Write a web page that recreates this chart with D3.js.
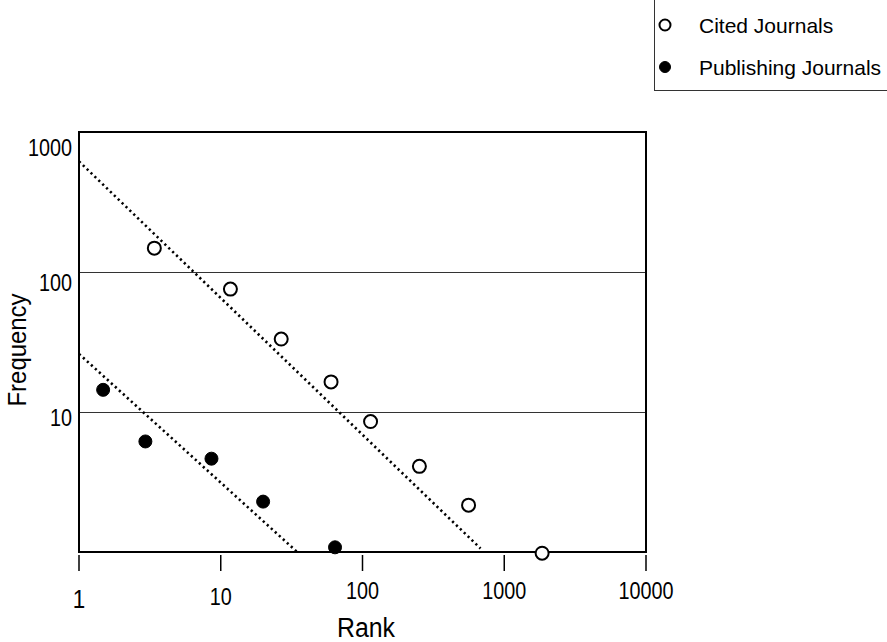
<!DOCTYPE html>
<html>
<head>
<meta charset="utf-8">
<script src="https://cdn.jsdelivr.net/npm/d3@7"></script>
<style>
  body { margin: 0; background: #fff; }
  svg { display: block; }
  text { font-family: "Liberation Sans", Arial, sans-serif; fill: #000; }
  .grid { stroke: #333; stroke-width: 1; shape-rendering: crispEdges; }
  .frame { fill: none; stroke: #000; stroke-width: 2; shape-rendering: crispEdges; }
  .trend { fill: none; stroke: #000; stroke-width: 2.6; stroke-dasharray: 2.2 3.2; }
  .cited { fill: #fff; stroke: #000; stroke-width: 2; }
  .publishing { fill: #000; stroke: #000; stroke-width: 1; }
</style>
</head>
<body>
<svg></svg>
<script>
// ranks and frequencies
const citedRank = [3.4, 11.7, 26.7, 60, 114, 252, 560, 1850]
const citedFreq = [148, 75.5, 33.2, 16.4, 8.55, 4.09, 2.16, 0.98]

const pubRank = [1.48, 2.94, 8.6, 19.9, 64]
const pubFreq = [14.4, 6.16, 4.64, 2.29, 1.08]

// fitted lines, endpoints [rank, freq]
const citedFit = [[1, 617], [680, 1.06]]
const pubFit = [[1, 26], [34.6, 1.0]]

const xTicks = [1, 10, 100, 1000, 10000]
const yTicks = [1000, 100, 10]
const gridValues = [100, 10]

const legendNames = ["Cited Journals", "Publishing Journals"]

const svg = d3.select("svg")
    .attr("width", 887)
    .attr("height", 642)

const x = d3.scaleLog()
    .domain([1, 10000])
    .range([79, 646])

const y = d3.scaleLog()
    .domain([1, 1000])
    .range([552, 132])

// the original uses a narrow face, so squeeze the glyphs a bit
function narrow(sel, k) {
    sel.each(function () {
        const w = this.getComputedTextLength()
        d3.select(this)
            .attr("textLength", w * k)
            .attr("lengthAdjust", "spacingAndGlyphs")
    })
}

// gridlines
svg.selectAll("line.grid")
    .data(gridValues)
    .enter()
    .append("line")
    .attr("class", "grid")
    .attr("x1", x(1))
    .attr("x2", x(10000))
    .attr("y1", d => y(d))
    .attr("y2", d => y(d))

// x ticks, hanging below the frame
svg.selectAll("line.xtick")
    .data(xTicks)
    .enter()
    .append("line")
    .attr("stroke", "#000")
    .attr("stroke-width", 1.5)
    .attr("x1", d => x(d))
    .attr("x2", d => x(d))
    .attr("y1", 555)
    .attr("y2", 571)

// tick labels sit a little unevenly in the original
const xLabelY = {1: 608, 10: 605, 100: 599, 1000: 599, 10000: 599}
svg.selectAll("text.xlab")
    .data(xTicks)
    .enter()
    .append("text")
    .attr("class", "xlab")
    .attr("x", d => x(d))
    .attr("y", d => xLabelY[d])
    .attr("text-anchor", "middle")
    .attr("font-size", d => d == 1 ? 26 : 23)
    .text(d => d)
    .call(narrow, 0.86)

const yLabelShift = {1000: 24, 100: 19, 10: 14}
svg.selectAll("text.ylab")
    .data(yTicks)
    .enter()
    .append("text")
    .attr("class", "ylab")
    .attr("x", 72)
    .attr("y", d => y(d) + yLabelShift[d])
    .attr("text-anchor", "end")
    .attr("font-size", 23)
    .text(d => d)
    .call(narrow, 0.86)

svg.append("text")
    .attr("x", 366)
    .attr("y", 637)
    .attr("text-anchor", "middle")
    .attr("font-size", 27)
    .text("Rank")
    .call(narrow, 0.92)

svg.append("text")
    .attr("transform", "translate(26, 350) rotate(-90)")
    .attr("text-anchor", "middle")
    .attr("font-size", 26)
    .text("Frequency")
    .call(narrow, 0.92)

// trend lines
const fitLine = d3.line()
    .x(d => x(d[0]))
    .y(d => y(d[1]))

svg.append("path")
    .datum(citedFit)
    .attr("class", "trend")
    .attr("d", fitLine)

svg.append("path")
    .datum(pubFit)
    .attr("class", "trend")
    .attr("d", fitLine)

// frame
svg.append("rect")
    .attr("class", "frame")
    .attr("x", x(1))
    .attr("y", y(1000))
    .attr("width", x(10000) - x(1))
    .attr("height", y(1) - y(1000))

// points
svg.selectAll("circle.cited")
    .data(citedRank)
    .enter()
    .append("circle")
    .attr("class", "cited")
    .attr("cx", d => x(d))
    .attr("cy", (d, i) => y(citedFreq[i]))
    .attr("r", 6.5)

svg.selectAll("circle.publishing")
    .data(pubRank)
    .enter()
    .append("circle")
    .attr("class", "publishing")
    .attr("cx", d => x(d))
    .attr("cy", (d, i) => y(pubFreq[i]))
    .attr("r", 6.5)

// legend
const legend = svg.append("g")

legend.append("rect")
    .attr("x", 654.5)
    .attr("y", -2)
    .attr("width", 240)
    .attr("height", 92.5)
    .attr("fill", "#fff")
    .attr("stroke", "#333")
    .attr("stroke-width", 1)

const items = legend.selectAll("g.item")
    .data(legendNames)
    .enter()
    .append("g")
    .attr("transform", (d, i) => `translate(665, ${25 + i * 42})`)

items.append("circle")
    .attr("r", 5.5)
    .attr("class", (d, i) => i == 0 ? "cited" : "publishing")

items.append("text")
    .attr("x", 34)
    .attr("y", 8)
    .attr("font-size", 21)
    .text(d => d)
</script>
</body>
</html>
